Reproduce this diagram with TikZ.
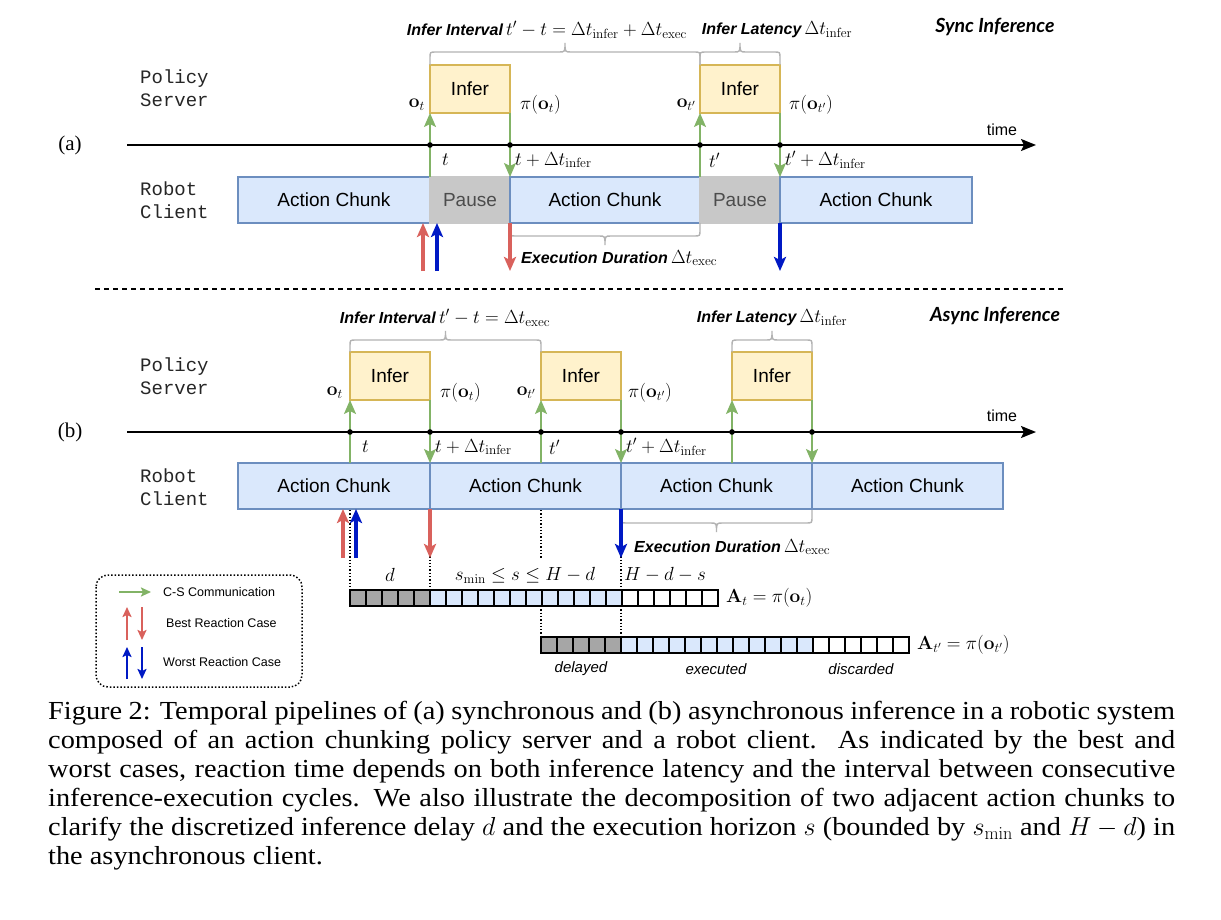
\RequirePackage{fix-cm}
\documentclass[tikz,border=0pt]{standalone}
\usepackage[no-math]{fontspec}
\setmainfont{Liberation Serif}
\newfontfamily\capfont[FakeStretch=1.09]{Liberation Serif}
\newfontfamily\arial{Liberation Sans}
\newfontfamily\cour{Liberation Mono}
\newfontfamily\latofont{Lato}
\usetikzlibrary{arrows.meta}
\definecolor{infill}{HTML}{FFF2CC}
\definecolor{indraw}{HTML}{D6B656}
\definecolor{acfill}{HTML}{DAE8FC}
\definecolor{acdraw}{HTML}{6C8EBF}
\definecolor{pafill}{HTML}{C8C8C8}
\definecolor{grn}{HTML}{82B366}
\definecolor{rdd}{HTML}{D9615C}
\definecolor{blu}{HTML}{0019C4}
\definecolor{brgray}{HTML}{B3B3B3}
\definecolor{cellgray}{HTML}{A6A6A6}
\newcommand\grbrace[5]{%
 \draw[brc] (#1,#3) -- (#1,{#4-(#5)*6}) .. controls (#1,#4) .. ({#1+6},#4) -- ({(#1+#2)/2-6},#4) .. controls ({(#1+#2)/2},#4) .. ({(#1+#2)/2},{#4+(#5)*9}) .. controls ({(#1+#2)/2},#4) .. ({(#1+#2)/2+6},#4) -- ({#2-6},#4) .. controls (#2,#4) .. (#2,{#4-(#5)*6}) -- (#2,#3);}
\tikzset{
 inferbox/.style={draw=indraw, fill=infill, line width=1.3pt, minimum width=80pt, minimum height=48pt, inner sep=0pt, outer sep=0pt, anchor=north west, font=\arial\fontsize{19}{22}\selectfont},
 chunkbox/.style={draw=acdraw, fill=acfill, line width=1.3pt, minimum height=46pt, inner sep=0pt, outer sep=0pt, anchor=north west, font=\arial\fontsize{19}{22}\selectfont},
 pausebox/.style={draw=pafill, fill=pafill, line width=1.3pt, minimum width=80pt, minimum height=46pt, inner sep=0pt, outer sep=0pt, anchor=north west, text=black!70, font=\arial\fontsize{19}{22}\selectfont},
 garr/.style={draw=grn, line width=1.8pt, -{Stealth[length=14pt,width=12pt,inset=3pt]}},
 rarr/.style={draw=rdd, line width=3.2pt, -{Stealth[length=14pt,width=12pt,inset=3pt]}},
 barr/.style={draw=blu, line width=3.2pt, -{Stealth[length=14pt,width=12pt,inset=3pt]}},
 larr/.style={line width=2pt, -{Stealth[length=10pt,width=9pt,inset=2pt]}},
 axis/.style={line width=1.8pt, -{Stealth[length=15pt,width=12pt,inset=3pt]}},
 brc/.style={draw=brgray, line width=1.4pt},
 mlab/.style={inner sep=0pt, font=\fontsize{19}{22}\selectfont},
 blab/.style={inner sep=0pt, font=\fontsize{19}{22}\selectfont},
 role/.style={inner sep=0pt, anchor=west, align=left, text=black!85, font=\cour\fontsize{19}{23.5}\selectfont},
 tit/.style={inner sep=0pt, font=\latofont\bfseries\itshape\fontsize{19.5}{22}\selectfont},
 leg/.style={inner sep=0pt, anchor=west, font=\arial\fontsize{12.5}{15}\selectfont},
 cell/.style={draw=black, line width=1.2pt},
 dots/.style={line width=1.3pt, dotted},
 axdot/.style={fill=black},
}
\newcommand\bsi{\arial\bfseries\itshape\fontsize{16}{18}\selectfont}
\begin{document}
\begin{tikzpicture}[x=1pt,y=-1pt]
\fill[white] (0,0) rectangle (1221,920);
\useasboundingbox (0,0) rectangle (1221,920);

% ================= (a) =================
\node[inner sep=0pt, font=\fontsize{21}{24}\selectfont] (la) at (70,145) {(a)};
\node[role] (ps1) at (140,88) {Policy\\Server};
\node[role] (rc1) at (140,200) {Robot\\Client};
\node[tit] (sync) at (995,27) {Sync Inference};

\draw[axis] (127,145) coordinate (axa0) -- (1036,145) coordinate (axa1);
\node[inner sep=0pt, font=\arial\fontsize{16}{19}\selectfont] (ta) at (1002,130) {time};

\node[inferbox] (ia1) at (430,65) {Infer};
\node[inferbox] (ia2) at (700,65) {Infer};

\node[chunkbox, minimum width=192pt] (ca1) at (238,177) {Action Chunk};
\node[pausebox] (pa1) at (430,177) {Pause};
\node[chunkbox, minimum width=190pt] (ca2) at (510,177) {Action Chunk};
\node[pausebox] (pa2) at (700,177) {Pause};
\node[chunkbox, minimum width=192pt] (ca3) at (780,177) {Action Chunk};

\draw[garr] (pa1.north west) -- (ia1.south west);
\draw[garr] (ia1.south east) -- (pa1.north east);
\draw[garr] (pa2.north west) -- (ia2.south west);
\draw[garr] (ia2.south east) -- (pa2.north east);
\foreach \x in {430,510,700,780} \fill[axdot] (\x,145) circle (2.8);

\node[mlab, anchor=east] (ot1) at (425,105) {$\mathbf{o}_t$};
\node[mlab, anchor=west] (pt1) at (520,105) {$\pi(\mathbf{o}_t)$};
\node[mlab, anchor=east] (ot2) at (696,105) {$\mathbf{o}_{t'}$};
\node[mlab, anchor=west] (pt2) at (789,105) {$\pi(\mathbf{o}_{t'})$};
\node[mlab, anchor=west] (tt1) at (442,160) {$t$};
\node[mlab, anchor=west] (tt2) at (515,160) {$t+\Delta t_{\mathrm{infer}}$};
\node[mlab, anchor=west] (tt3) at (709,160) {$t'$};
\node[mlab, anchor=west] (tt4) at (785,160) {$t'+\Delta t_{\mathrm{infer}}$};

\grbrace{430}{700}{65}{52}{-1}
\grbrace{700}{780}{65}{52}{-1}
\node[blab] (bl1) at (547,30) {{\bsi Infer Interval}\,$t'-t=\Delta t_{\mathrm{infer}}+\Delta t_{\mathrm{exec}}$};
\node[blab] (bl2) at (777,30) {{\bsi Infer Latency}\,$\Delta t_{\mathrm{infer}}$};
\grbrace{510}{700}{223}{236}{1}
\node[blab, anchor=west] (bl3) at (521,258) {{\bsi Execution Duration}\,$\Delta t_{\mathrm{exec}}$};

\coordinate (rua) at (423,271);
\coordinate (bua) at (437,271);
\coordinate (rda) at (510,271);
\coordinate (bda) at (780,271);
\draw[rarr] (rua) -- (rua |- ca1.south);
\draw[barr] (bua) -- (bua |- ca1.south);
\draw[rarr] (pa1.south east) -- (rda);
\draw[barr] (pa2.south east) -- (bda);

% separator
\draw[line width=1.1pt, dash pattern=on 5pt off 4pt] (95,289) coordinate (sp0) -- (1066,289) coordinate (sp1);

% ================= (b) =================
\node[inner sep=0pt, font=\fontsize{21}{24}\selectfont] (lb) at (70,432) {(b)};
\node[role] (ps2) at (140,376) {Policy\\Server};
\node[role] (rc2) at (140,487) {Robot\\Client};
\node[tit] (async) at (995,316) {Async Inference};

\draw[axis] (127,432) coordinate (axb0) -- (1036,432) coordinate (axb1);
\node[inner sep=0pt, font=\arial\fontsize{16}{19}\selectfont] (tb) at (1002,416) {time};

\node[inferbox] (ib1) at (350,352) {Infer};
\node[inferbox] (ib2) at (541,352) {Infer};
\node[inferbox] (ib3) at (732,352) {Infer};

\node[chunkbox, minimum width=192pt] (cb1) at (238,463) {Action Chunk};
\node[chunkbox, minimum width=191pt] (cb2) at (430,463) {Action Chunk};
\node[chunkbox, minimum width=191pt] (cb3) at (621,463) {Action Chunk};
\node[chunkbox, minimum width=191pt] (cb4) at (812,463) {Action Chunk};

\draw[garr] (cb1.north -| ib1.south west) -- (ib1.south west);
\draw[garr] (ib1.south east) -- (cb2.north west);
\draw[garr] (cb2.north -| ib2.south west) -- (ib2.south west);
\draw[garr] (ib2.south east) -- (cb3.north west);
\draw[garr] (cb3.north -| ib3.south west) -- (ib3.south west);
\draw[garr] (ib3.south east) -- (cb4.north west);
\foreach \x in {350,430,541,621,732,812} \fill[axdot] (\x,432) circle (2.8);

\node[mlab, anchor=east] (ot3) at (343,393) {$\mathbf{o}_t$};
\node[mlab, anchor=west] (pt3) at (440,393) {$\pi(\mathbf{o}_t)$};
\node[mlab, anchor=east] (ot4) at (536,393) {$\mathbf{o}_{t'}$};
\node[mlab, anchor=west] (pt4) at (628,393) {$\pi(\mathbf{o}_{t'})$};
\node[mlab, anchor=west] (tt5) at (362,447) {$t$};
\node[mlab, anchor=west] (tt6) at (435,447) {$t+\Delta t_{\mathrm{infer}}$};
\node[mlab, anchor=west] (tt7) at (549,447) {$t'$};
\node[mlab, anchor=west] (tt8) at (626,447) {$t'+\Delta t_{\mathrm{infer}}$};

\grbrace{350}{541}{352}{340}{-1}
\grbrace{732}{812}{352}{340}{-1}
\node[blab] (bl4) at (445,318) {{\bsi Infer Interval}\,$t'-t=\Delta t_{\mathrm{exec}}$};
\node[blab] (bl5) at (772,318) {{\bsi Infer Latency}\,$\Delta t_{\mathrm{infer}}$};
\grbrace{621}{812}{510}{523}{1}
\node[blab, anchor=west] (bl6) at (634,547) {{\bsi Execution Duration}\,$\Delta t_{\mathrm{exec}}$};

% dotted guides
\draw[dots] (350,510) -- (350,590);
\draw[dots] (430,510) -- (430,590);
\draw[dots] (541,510) -- (541,559);
\draw[dots] (621,510) -- (621,590);
\draw[dots] (541,606) -- (541,637);
\draw[dots] (621,606) -- (621,637);

\coordinate (rub) at (343,558);
\coordinate (bub) at (356,558);
\coordinate (rdb) at (430,558);
\coordinate (bdb) at (621,558);
\draw[rarr] (rub) -- (rub |- cb1.south);
\draw[barr] (bub) -- (bub |- cb1.south);
\draw[rarr] (cb2.south west) -- (rdb);
\draw[barr] (cb3.south west) -- (bdb);

\node[mlab] (dl) at (390,575) {$d$};
\node[mlab] (sl) at (525,575) {$s_{\min}\le s\le H-d$};
\node[mlab] (hl) at (665,575) {$H-d-s$};

% action chunk arrays
\foreach \i in {0,...,4} \draw[cell, fill=cellgray] ({350+16*\i},590) rectangle ++(16,16);
\foreach \i in {5,...,16} \draw[cell, fill=acfill] ({350+16*\i},590) rectangle ++(16,16);
\foreach \i in {17,...,22} \draw[cell, fill=white] ({350+16*\i},590) rectangle ++(16,16);
\node[mlab, anchor=west] (at1) at (726,598) {$\mathbf{A}_t=\pi(\mathbf{o}_t)$};

\foreach \i in {0,...,4} \draw[cell, fill=cellgray] ({541+16*\i},637) rectangle ++(16,16);
\foreach \i in {5,...,16} \draw[cell, fill=acfill] ({541+16*\i},637) rectangle ++(16,16);
\foreach \i in {17,...,22} \draw[cell, fill=white] ({541+16*\i},637) rectangle ++(16,16);
\node[mlab, anchor=west] (at2) at (917,645) {$\mathbf{A}_{t'}=\pi(\mathbf{o}_{t'})$};

\node[inner sep=0pt, font=\arial\itshape\fontsize{15}{18}\selectfont] (dly) at (581,669) {delayed};
\node[inner sep=0pt, font=\arial\itshape\fontsize{15}{18}\selectfont] (exe) at (716,669) {executed};
\node[inner sep=0pt, font=\arial\itshape\fontsize{15}{18}\selectfont] (dis) at (861,669) {discarded};

% legend
\draw[line width=1.5pt, dotted, rounded corners=12pt] (96,575) rectangle (302,687);
\coordinate (lg0) at (119,592); \coordinate (lg1) at (151,592);
\draw[larr, draw=grn] (lg0) -- (lg1);
\node[leg] (lt1) at (163,592) {C-S Communication};
\coordinate (lr0) at (127,640); \coordinate (lr1) at (127,607);
\coordinate (lr2) at (142,607); \coordinate (lr3) at (142,640);
\draw[larr, draw=rdd] (lr0) -- (lr1);
\draw[larr, draw=rdd] (lr2) -- (lr3);
\node[leg] (lt2) at (166,623) {Best Reaction Case};
\coordinate (lb0) at (127,679); \coordinate (lb1) at (127,647);
\coordinate (lb2) at (142,647); \coordinate (lb3) at (142,679);
\draw[larr, draw=blu] (lb0) -- (lb1);
\draw[larr, draw=blu] (lb2) -- (lb3);
\node[leg] (lt3) at (163,662) {Worst Reaction Case};

% caption
\node[anchor=north west, inner sep=0pt, text width=1127pt, align=justify, font=\capfont\fontsize{26}{29}\selectfont] (cap) at (48,701) {Figure 2: Temporal pipelines of (a) synchronous and (b) asynchronous inference in a robotic system\linebreak
composed of an action chunking policy server and a robot client.\ \ As indicated by the best and\linebreak
worst cases, reaction time depends on both inference latency and the interval between consecutive\linebreak
inference-execution cycles. We also illustrate the decomposition of two adjacent action chunks to\linebreak
clarify the discretized inference delay $d$ and the execution horizon $s$ (bounded by $s_{\min}$ and $H-d$) in\linebreak
the asynchronous client.};
\end{tikzpicture}
\end{document}
